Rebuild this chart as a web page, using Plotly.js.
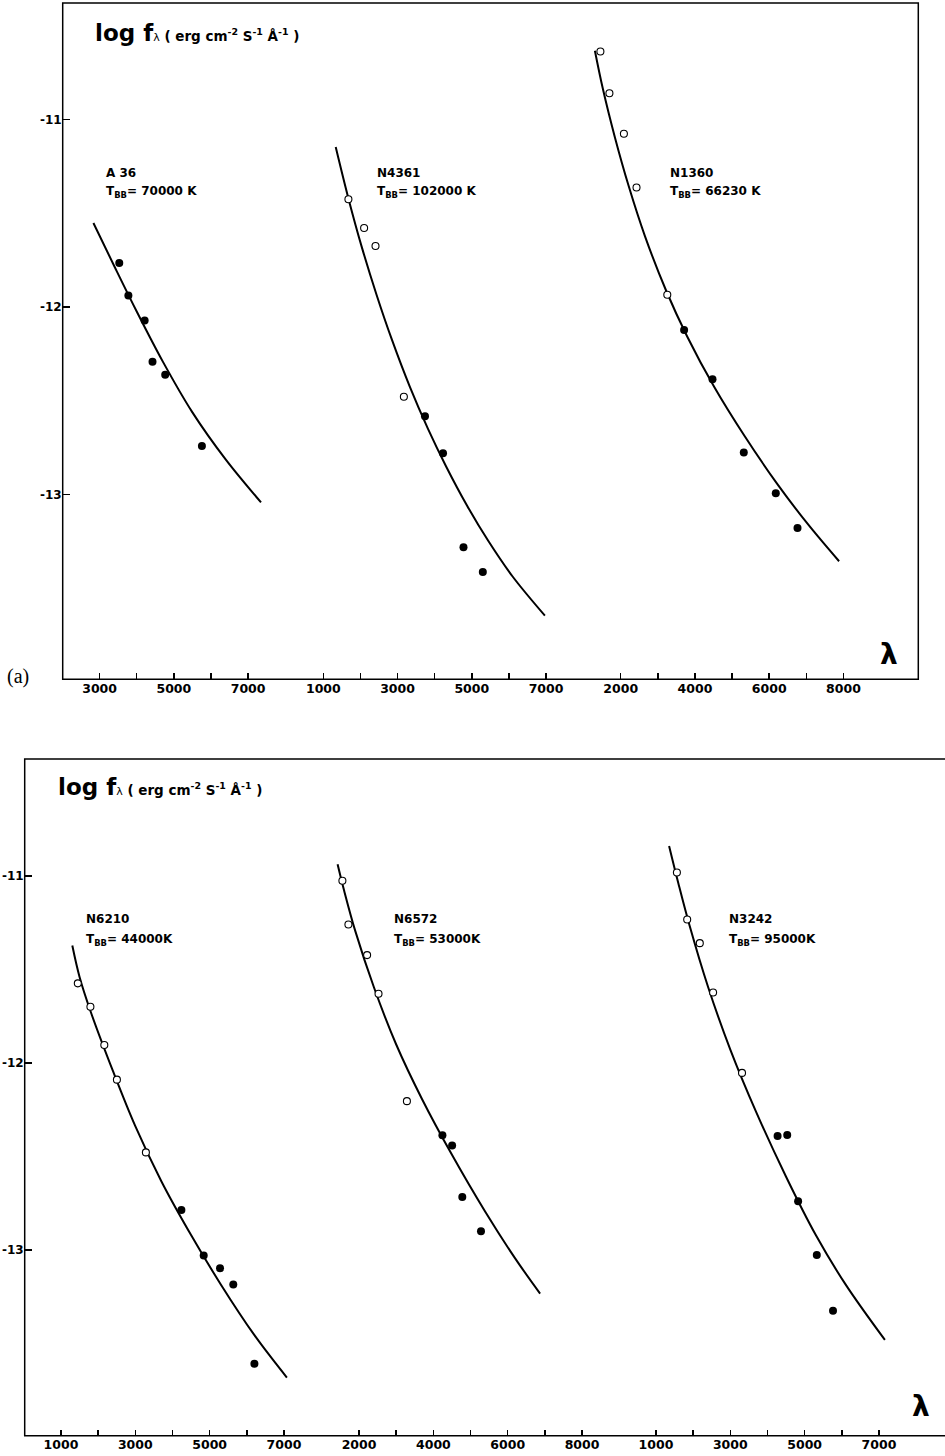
<!DOCTYPE html>
<html>
<head>
<meta charset="utf-8">
<script src="https://cdn.plot.ly/plotly-3.0.1.min.js"></script>
<style>html,body{margin:0;padding:0;background:#fff;}#chart{width:945px;height:1456px;}</style>
</head>
<body>
<div id="chart"></div>
<script>
// ---------------- DATA (wavelength in Å, log f_lambda) ----------------
// Panel (a)
const a36CurveLam   = [2833, 3400, 4000, 4700, 5500, 6400, 7348];
const a36CurveLog   = [-11.552, -11.784, -12.024, -12.290, -12.562, -12.814, -13.042];
const a36FilledLam  = [3530, 3775, 4213, 4425, 4767, 5756];
const a36FilledLog  = [-11.765, -11.939, -12.072, -12.292, -12.361, -12.741];

const n4361CurveLam = [1334, 1676, 2033, 2438, 2845, 3332, 3820, 4305, 4874, 5442, 6094, 6969];
const n4361CurveLog = [-11.147, -11.421, -11.678, -11.937, -12.173, -12.426, -12.650, -12.849, -13.060, -13.247, -13.436, -13.646];
const n4361OpenLam  = [1676, 2099, 2406, 3170];
const n4361OpenLog  = [-11.425, -11.579, -11.675, -12.479];
const n4361FilledLam = [3739, 4225, 4776, 5297];
const n4361FilledLog = [-12.582, -12.780, -13.281, -13.413];

const n1360CurveLam = [1304, 1517, 1840, 2214, 2654, 3221, 3790, 4520, 5332, 6225, 7037, 7882];
const n1360CurveLog = [-10.633, -10.835, -11.093, -11.355, -11.623, -11.912, -12.157, -12.427, -12.687, -12.946, -13.157, -13.356];
const n1360OpenLam  = [1452, 1695, 2085, 2425, 3254];
const n1360OpenLog  = [-10.637, -10.860, -11.076, -11.363, -11.935];
const n1360FilledLam = [3707, 4472, 5315, 6177, 6762];
const n1360FilledLog = [-12.123, -12.386, -12.776, -12.994, -13.178];

// Panel (b)
const n6210CurveLam = [1305, 1500, 1800, 2400, 3000, 3700, 4500, 5300, 6200, 7078];
const n6210CurveLog = [-11.372, -11.540, -11.726, -12.044, -12.338, -12.632, -12.920, -13.184, -13.454, -13.682];
const n6210OpenLam  = [1453, 1792, 2166, 2505, 3285];
const n6210OpenLog  = [-11.574, -11.699, -11.904, -12.089, -12.478];
const n6210FilledLam = [4240, 4840, 5279, 5636, 6204];
const n6210FilledLog = [-12.786, -13.030, -13.098, -13.184, -13.608];

const n6572CurveLam = [1423, 1600, 1900, 2400, 3000, 3700, 4500, 5400, 6200, 6871];
const n6572CurveLog = [-10.937, -11.079, -11.295, -11.595, -11.901, -12.195, -12.491, -12.797, -13.045, -13.233];
const n6572OpenLam  = [1552, 1714, 2217, 2524, 3288];
const n6572OpenLog  = [-11.025, -11.259, -11.423, -11.630, -12.204];
const n6572FilledLam = [4243, 4504, 4778, 5281];
const n6572FilledLog = [-12.387, -12.441, -12.717, -12.900];

const n3242CurveLam = [1353, 1600, 1900, 2400, 3000, 3700, 4500, 5300, 6100, 7159];
const n3242CurveLog = [-10.839, -11.037, -11.262, -11.592, -11.928, -12.264, -12.608, -12.920, -13.184, -13.481];
const n3242OpenLam  = [1563, 1840, 2179, 2537, 3315];
const n3242OpenLog  = [-10.981, -11.233, -11.359, -11.623, -12.053];
const n3242FilledLam = [4272, 4531, 4824, 5327, 5763];
const n3242FilledLog = [-12.390, -12.385, -12.739, -13.027, -13.325];

// Tick values (labelled) and unlabelled minor ticks
const ticksA1 = [3000, 5000, 7000];             const minorA1 = [4000, 6000];
const ticksA2 = [1000, 3000, 5000, 7000];       const minorA2 = [2000, 4000, 6000];
const ticksA3 = [2000, 4000, 6000, 8000];       const minorA3 = [3000, 5000, 7000];
const ticksB1 = [1000, 3000, 5000, 7000];       const minorB1 = [2000, 4000, 6000];
const ticksB2 = [2000, 4000, 6000, 8000];       const minorB2 = [3000, 5000, 7000];
const ticksB3 = [1000, 3000, 5000, 7000];       const minorB3 = [2000, 4000, 6000];
const yTicks = [-11, -12, -13];
const yText  = ['-11', '-12', '-13'];

const labelsA = [['A 36', '70000 K'], ['N4361', '102000 K'], ['N1360', '66230 K']];
const labelsB = [['N6210', '44000K'], ['N6572', '53000K'], ['N3242', '95000K']];

// ---------------- LAYOUT HELPERS ----------------
const W = 945, H = 1456;
const px = v => v / W;
const py = v => 1 - v / H;
const FONT = 'DejaVu Sans, sans-serif';

function xRange(leftPx, rightPx, zeroPx, pxPer1000) {
  return [(leftPx - zeroPx) / pxPer1000 * 1000, (rightPx - zeroPx) / pxPer1000 * 1000];
}
function xAxis(domL, domR, zeroPx, s, tv, mv, anchor) {
  return {
    domain: [px(domL), px(domR)],
    range: xRange(domL, domR, zeroPx, s),
    anchor: anchor,
    showgrid: false, zeroline: false, showline: false,
    ticks: 'inside', ticklen: 6, tickwidth: 1.5, tickcolor: '#000',
    tickmode: 'array', tickvals: tv, ticktext: tv.map(String),
    minor: {tickmode: 'array', tickvals: mv, ticks: 'inside', ticklen: 6, tickwidth: 1.5, tickcolor: '#000', showgrid: false},
    tickfont: {family: FONT, size: 12.5, color: '#000', weight: 'bold'},
    fixedrange: true
  };
}
function yAxis(topPx, botPx, v1Px, s, anchor) {
  return {
    domain: [py(botPx), py(topPx)],
    range: [-11 - (botPx - v1Px) / s, -11 + (v1Px - topPx) / s],
    anchor: anchor,
    showgrid: false, zeroline: false, showline: false,
    ticks: 'inside', ticklen: 7, tickwidth: 1.5, tickcolor: '#000',
    tickmode: 'array', tickvals: yTicks, ticktext: yText,
    tickfont: {family: FONT, size: 12, color: '#000', weight: 'bold'},
    fixedrange: true
  };
}

// ---------------- TRACES ----------------
const traces = [];
function addObject(xa, ya, cl, cv, ol, ov, fl, fv) {
  traces.push({x: cl, y: cv, xaxis: xa, yaxis: ya, mode: 'lines',
    line: {color: '#000', width: 2, shape: 'spline', smoothing: 1}, hoverinfo: 'skip'});
  if (ol) traces.push({x: ol, y: ov, xaxis: xa, yaxis: ya, mode: 'markers',
    marker: {symbol: 'circle', size: 7, color: '#fff', line: {color: '#000', width: 1.1}}});
  if (fl) traces.push({x: fl, y: fv, xaxis: xa, yaxis: ya, mode: 'markers',
    marker: {symbol: 'circle', size: 8, color: '#000', line: {width: 0}}});
}
addObject('x', 'y', a36CurveLam, a36CurveLog, null, null, a36FilledLam, a36FilledLog);
addObject('x2', 'y', n4361CurveLam, n4361CurveLog, n4361OpenLam, n4361OpenLog, n4361FilledLam, n4361FilledLog);
addObject('x3', 'y', n1360CurveLam, n1360CurveLog, n1360OpenLam, n1360OpenLog, n1360FilledLam, n1360FilledLog);
addObject('x4', 'y2', n6210CurveLam, n6210CurveLog, n6210OpenLam, n6210OpenLog, n6210FilledLam, n6210FilledLog);
addObject('x5', 'y2', n6572CurveLam, n6572CurveLog, n6572OpenLam, n6572OpenLog, n6572FilledLam, n6572FilledLog);
addObject('x6', 'y2', n3242CurveLam, n3242CurveLog, n3242OpenLam, n3242OpenLog, n3242FilledLam, n3242FilledLog);

// ---------------- ANNOTATIONS ----------------
const ann = [];
function txt(x, y, text, size, opts) {
  ann.push(Object.assign({xref: 'paper', yref: 'paper', x: px(x), y: py(y), text: text,
    showarrow: false, xanchor: 'left', yanchor: 'middle',
    font: {family: FONT, size: size, color: '#000', weight: 'bold'}}, opts || {}));
}
const unitText = '<b>log f</b><span style="font-size:11px;font-weight:normal">λ</span>' +
  '<span style="font-size:13.5px"> ( erg cm<sup>-2</sup> S<sup>-1</sup> Å<sup>-1</sup> )</span>';
txt(93, 33, unitText, 23);
txt(56, 787, unitText, 23);

const posA = [104, 375, 668];
labelsA.forEach((l, i) => {
  txt(posA[i], 172.5, l[0], 12);
  txt(posA[i], 192, 'T<sub>BB</sub>= ' + l[1], 12);
});
const posB = [84, 392, 727];
labelsB.forEach((l, i) => {
  txt(posB[i], 919, l[0], 12);
  txt(posB[i], 939.5, 'T<sub>BB</sub>= ' + l[1], 12);
});
txt(889, 655, 'λ', 28, {xanchor: 'center'});
txt(921, 1406, 'λ', 28, {xanchor: 'center'});
txt(18, 676, '(a)', 20, {xanchor: 'center', font: {family: 'Liberation Serif, serif', size: 20, color: '#000'}});

// ---------------- LAYOUT ----------------
const sA = 37.12, sB = 37.17;
const layout = {
  width: W, height: H,
  margin: {l: 0, r: 0, t: 0, b: 0},
  paper_bgcolor: '#fff', plot_bgcolor: 'rgba(0,0,0,0)',
  showlegend: false,
  xaxis:  xAxis(62.7, 300, -11.75, sA, ticksA1, minorA1, 'y'),
  xaxis2: xAxis(300, 575, 286.2, sA, ticksA2, minorA2, 'y'),
  xaxis3: xAxis(575, 918.3, 546.5, sA, ticksA3, minorA3, 'y'),
  xaxis4: xAxis(24.7, 310, 23.8, sB, ticksB1, minorB1, 'y2'),
  xaxis5: xAxis(310, 600, 284.7, sB, ticksB2, minorB2, 'y2'),
  xaxis6: xAxis(600, 945, 618.8, sB, ticksB3, minorB3, 'y2'),
  yaxis:  yAxis(3, 679.3, 119.5, 187.5, 'x'),
  yaxis2: yAxis(759, 1435.7, 876, 187, 'x4'),
  shapes: [
    {type: 'rect', xref: 'paper', yref: 'paper', x0: px(62.7), x1: px(918.3), y0: py(679.3), y1: py(3),
     line: {color: '#000', width: 1.5}, fillcolor: 'rgba(0,0,0,0)'},
    {type: 'rect', xref: 'paper', yref: 'paper', x0: px(24.7), x1: 1.02, y0: py(1435.7), y1: py(759),
     line: {color: '#000', width: 1.5}, fillcolor: 'rgba(0,0,0,0)'}
  ],
  annotations: ann
};

Plotly.newPlot('chart', traces, layout, {staticPlot: true, displayModeBar: false});
</script>
</body>
</html>
